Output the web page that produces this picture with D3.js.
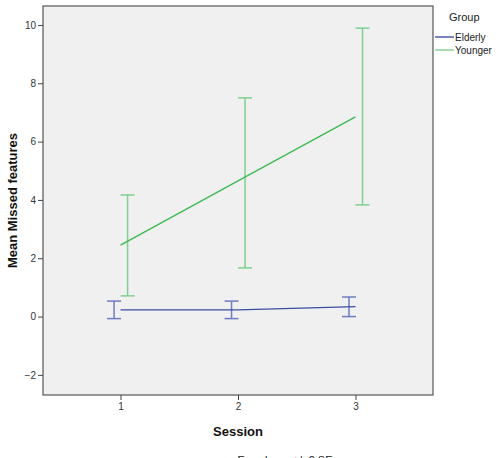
<!DOCTYPE html>
<html>
<head>
<meta charset="utf-8">
<script src="https://cdn.jsdelivr.net/npm/d3@7"></script>
<style>
body { margin:0; background:#fff; }
svg text { font-family: Arial, "Liberation Sans", sans-serif; }
</style>
</head>
<body>
<div id="chart"></div>
<script>
// data
var sessions = [1, 2, 3];
var groups = ["Elderly", "Younger"];
var elderlyMean = [0.23, 0.23, 0.34];
var elderlyLow = [-0.07, -0.07, 0.0];
var elderlyHigh = [0.53, 0.53, 0.67];
var youngerMean = [2.45, 4.65, 6.85];
var youngerLow = [0.71, 1.67, 3.83];
var youngerHigh = [4.17, 7.5, 9.89];
var yTicks = [-2, 0, 2, 4, 6, 8, 10];

var svgWidth = 498, svgHeight = 458;
var plot = {left:43, top:6, right:433, bottom:395};

var svg = d3.select("#chart").append("svg")
    .attr("width", svgWidth)
    .attr("height", svgHeight);

var x = d3.scaleLinear().domain([0.34, 3.66]).range([plot.left, plot.right]);
var y = d3.scaleLinear().domain([-2.69, 10.65]).range([plot.bottom, plot.top]);

svg.append("rect")
    .attr("x", plot.left).attr("y", plot.top)
    .attr("width", plot.right - plot.left)
    .attr("height", plot.bottom - plot.top)
    .attr("fill", "#f0f0f0")
    .attr("stroke", "#555").attr("stroke-width", 1.2);

var series = [
    {name:"Elderly", mean:elderlyMean, low:elderlyLow, high:elderlyHigh, line:"#3b4ea3", bar:"#6d7cc4", dodge:-0.055},
    {name:"Younger", mean:youngerMean, low:youngerLow, high:youngerHigh, line:"#3dba52", bar:"#7ed18e", dodge:0.06}
];

var line = d3.line()
    .x(function(d){ return x(d.s); })
    .y(function(d){ return y(d.m); });

series.forEach(function(g){
    var pts = sessions.map(function(s, i){
        return {s:s, m:g.mean[i], lo:g.low[i], hi:g.high[i]};
    });
    var bars = svg.append("g").attr("stroke", g.bar).attr("stroke-width", 1.5).attr("fill", "none");
    pts.forEach(function(p){
        var cx = x(p.s + g.dodge);
        bars.append("line").attr("x1", cx).attr("x2", cx).attr("y1", y(p.lo)).attr("y2", y(p.hi));
        bars.append("line").attr("x1", cx - 7).attr("x2", cx + 7).attr("y1", y(p.lo)).attr("y2", y(p.lo));
        bars.append("line").attr("x1", cx - 7).attr("x2", cx + 7).attr("y1", y(p.hi)).attr("y2", y(p.hi));
    });
    svg.append("path")
        .datum(pts)
        .attr("d", line)
        .attr("fill", "none")
        .attr("stroke", g.line)
        .attr("stroke-width", 1.4);
});

// axes
var leftAxis = d3.axisLeft(y).tickValues(yTicks).tickSize(5).tickSizeOuter(0);
var bottomAxis = d3.axisBottom(x).tickValues(sessions).tickSize(5).tickSizeOuter(0).tickFormat(d3.format("d"));

var ya = svg.append("g").attr("transform", "translate(" + plot.left + ",0)").call(leftAxis);
var xa = svg.append("g").attr("transform", "translate(0," + plot.bottom + ")").call(bottomAxis);
[ya, xa].forEach(function(a){
    a.select(".domain").remove();
    a.selectAll(".tick line").attr("stroke", "#444");
    a.selectAll(".tick text").attr("fill", "#333").style("font-size", "10px");
});
ya.selectAll(".tick text").attr("x", -7);
xa.selectAll(".tick text").attr("y", 8);

svg.append("text")
    .attr("transform", "translate(17," + ((plot.top + plot.bottom) / 2) + ") rotate(-90)")
    .attr("text-anchor", "middle")
    .style("font-size", "13px").style("font-weight", "bold")
    .attr("fill", "#111")
    .text("Mean Missed features");

svg.append("text")
    .attr("x", 238).attr("y", 436)
    .attr("text-anchor", "middle")
    .style("font-size", "13px").style("font-weight", "bold")
    .attr("fill", "#111")
    .text("Session");

svg.append("text")
    .attr("x", 285).attr("y", 464)
    .attr("text-anchor", "middle")
    .style("font-size", "11px")
    .attr("fill", "#222")
    .text("Error bars: +/- 2 SE");

// legend
svg.append("text")
    .attr("x", 449).attr("y", 21)
    .style("font-size", "11px").attr("fill", "#222")
    .text("Group");

var legend = svg.selectAll(".legend").data(series).enter().append("g")
    .attr("transform", function(d, i){ return "translate(435," + (37 + i * 13) + ")"; });
legend.append("line").attr("x1", 0).attr("x2", 19).attr("y1", 0).attr("y2", 0)
    .attr("stroke", function(d){ return d.name == "Elderly" ? d.line : d.bar; }).attr("stroke-width", 1.4);
legend.append("text").attr("x", 20).attr("y", 4)
    .style("font-size", "10px").attr("fill", "#222")
    .text(function(d){ return d.name; });
</script>
</body>
</html>
